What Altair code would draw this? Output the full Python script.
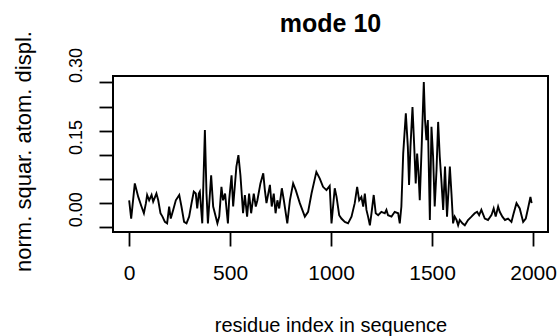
import altair as alt
import pandas as pd

# residue index (x) and normalized squared atomic displacement (y)
residue = [0, 10, 28, 45, 61, 73, 83, 89, 99, 111, 119, 135, 144, 155, 165, 177, 188, 198, 206, 218,
           231, 248, 259, 272, 284, 297, 309, 320, 330, 337, 345, 350, 362, 375, 383, 390, 406, 416, 437, 446,
           457, 465, 475, 489, 495, 507, 515, 531, 541, 551, 564, 573, 584, 594, 604, 617, 627, 635, 650, 664,
           672, 680, 697, 706, 716, 725, 734, 743, 756, 766, 783, 796, 812, 825, 845, 870, 886, 903, 927, 944,
           960, 977, 993, 1002, 1018, 1027, 1040, 1051, 1068, 1084, 1101, 1117, 1129, 1139, 1150, 1159, 1167, 1175, 1183, 1192,
           1200, 1211, 1221, 1233, 1249, 1266, 1274, 1282, 1299, 1315, 1332, 1340, 1348, 1357, 1370, 1380, 1386, 1393, 1403, 1411,
           1419, 1426, 1432, 1439, 1449, 1459, 1465, 1472, 1479, 1489, 1497, 1505, 1513, 1522, 1530, 1538, 1546, 1555, 1564, 1574,
           1588, 1596, 1604, 1612, 1621, 1629, 1637, 1650, 1662, 1678, 1695, 1711, 1723, 1733, 1744, 1761, 1777, 1794, 1805, 1815,
           1827, 1835, 1848, 1861, 1876, 1893, 1904, 1918, 1934, 1951, 1964, 1975, 1987, 1993]
displ = [0.055, 0.017, 0.090, 0.062, 0.042, 0.028, 0.049, 0.066, 0.055, 0.066, 0.052, 0.069, 0.055, 0.028, 0.021, 0.010, 0.007, 0.042, 0.017, 0.035,
         0.055, 0.066, 0.042, 0.010, 0.007, 0.021, 0.049, 0.073, 0.069, 0.038, 0.069, 0.073, 0.007, 0.201, 0.069, 0.007, 0.107, 0.042, 0.007, 0.021,
         0.083, 0.055, 0.069, 0.007, 0.055, 0.107, 0.042, 0.125, 0.149, 0.107, 0.028, 0.066, 0.021, 0.069, 0.028, 0.069, 0.042, 0.055, 0.090, 0.111,
         0.076, 0.049, 0.087, 0.042, 0.069, 0.028, 0.055, 0.038, 0.080, 0.055, 0.007, 0.055, 0.090, 0.076, 0.049, 0.021, 0.031, 0.069, 0.114, 0.100,
         0.083, 0.076, 0.085, 0.007, 0.080, 0.062, 0.024, 0.017, 0.010, 0.007, 0.021, 0.049, 0.083, 0.055, 0.062, 0.042, 0.069, 0.035, 0.021, 0.003,
         0.028, 0.066, 0.028, 0.024, 0.031, 0.028, 0.035, 0.024, 0.021, 0.031, 0.028, 0.007, 0.042, 0.152, 0.236, 0.166, 0.087, 0.166, 0.249, 0.173,
         0.090, 0.152, 0.118, 0.055, 0.173, 0.301, 0.222, 0.180, 0.222, 0.014, 0.208, 0.146, 0.042, 0.118, 0.218, 0.146, 0.097, 0.035, 0.125, 0.021,
         0.125, 0.069, 0.007, 0.021, 0.014, 0.003, 0.014, 0.007, 0.003, 0.014, 0.021, 0.028, 0.031, 0.024, 0.035, 0.017, 0.014, 0.024, 0.038, 0.021,
         0.042, 0.031, 0.021, 0.014, 0.017, 0.010, 0.028, 0.049, 0.038, 0.010, 0.017, 0.038, 0.062, 0.049]

x_ticks = [0, 500, 1000, 1500, 2000]
y_ticks = [0.0, 0.05, 0.10, 0.15, 0.20, 0.25, 0.30]
y_labeled = [0.0, 0.15, 0.30]

df = pd.DataFrame({"residue": residue, "displ": displ})

label_cond = " || ".join(f"abs(datum.value - {v}) < 1e-6" for v in y_labeled)
y_label_expr = f"({label_cond}) ? format(datum.value, '.2f') : ''"

FONT = "Liberation Sans"

chart = alt.Chart(df).mark_line(color="black", strokeWidth=1.9, clip=True).encode(
    x=alt.X(
        "residue:Q",
        scale=alt.Scale(domain=[-80, 2074], nice=False, zero=False),
        axis=alt.Axis(
            values=x_ticks, format="d", grid=False, domain=False,
            tickSize=14, tickWidth=1.8, tickColor="black",
            labelFont=FONT, labelFontSize=21, labelColor="black", labelPadding=16.7,
            labelFlush=False, labelOverlap=False,
            title="residue index in sequence", titleFont=FONT, titleFontSize=20,
            titleFontWeight="normal", titleColor="black",
            titleX=217.5, titleY=99.5, titleAlign="center", titleBaseline="alphabetic",
        ),
    ),
    y=alt.Y(
        "displ:Q",
        scale=alt.Scale(domain=[-0.011, 0.3135], nice=False, zero=False),
        axis=alt.Axis(
            values=y_ticks, labelExpr=y_label_expr, grid=False, domain=False,
            tickSize=14, tickWidth=1.8, tickColor="black",
            labelFont=FONT, labelFontSize=18, labelColor="black", labelPadding=17.3,
            labelAngle=270, labelAlign="left", labelBaseline="alphabetic",
            labelFlush=False, labelOverlap=False,
            title="norm. squar. atom. displ.", titleFont=FONT, titleFontSize=22,
            titleFontWeight="normal", titleColor="black", titleAngle=270,
            titleX=-83, titleY=75, titleAlign="center", titleBaseline="alphabetic",
        ),
    ),
).properties(
    width=435,
    height=156,
    title=alt.TitleParams(
        text="mode 10", font=FONT, fontSize=25, fontWeight="bold", color="black",
        anchor="middle", frame="group", baseline="alphabetic", offset=-26,
    ),
    padding={"left": 113, "top": 76, "right": 10, "bottom": 104},
    autosize="none",
).configure_view(stroke="black", strokeWidth=2)

chart.save("out.html", embed_options={"renderer": "svg", "actions": False})
